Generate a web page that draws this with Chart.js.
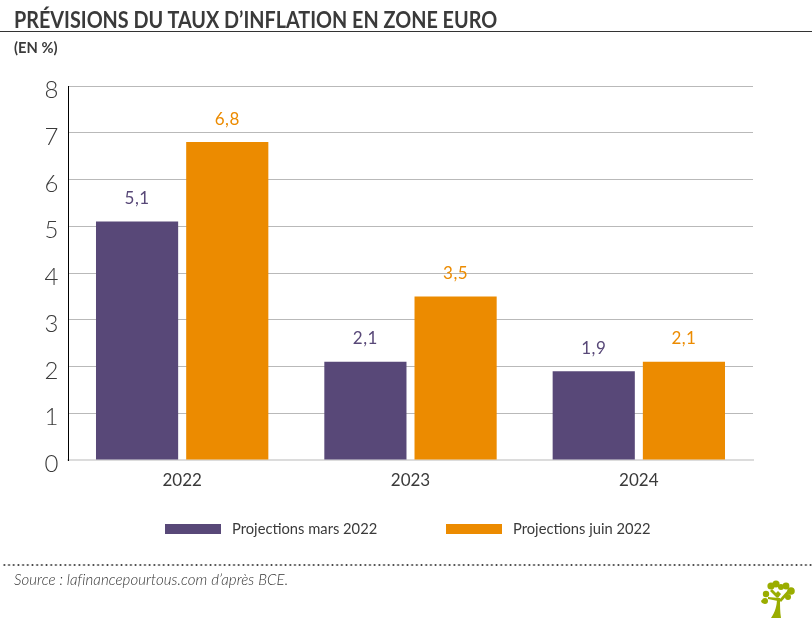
<!DOCTYPE html>
<html lang="fr"><head><meta charset="utf-8">
<style>
html,body{margin:0;padding:0;background:#fff;width:812px;height:618px;overflow:hidden}
#wrap{position:relative;width:812px;height:618px;font-family:Lato,"Open Sans",sans-serif;color:#333}
canvas{position:absolute;left:0;top:0}
.t{position:absolute;white-space:nowrap}
#title{left:14px;top:6px;font-size:22px;font-weight:700;color:#3a3a3a;transform:scaleX(.899);transform-origin:0 0}
#rule{position:absolute;left:0;top:31px;width:812px;height:1px;background:#333}
#unit{left:14px;top:38px;font-size:15px;font-weight:700;color:#3a3a3a;transform:scaleX(.98);transform-origin:0 0}
#dots{position:absolute;left:2px;top:564px;width:810px;height:2px;background-image:radial-gradient(circle,#444 1px,transparent 1.1px);background-size:4.7px 2px}
#source{left:14px;top:570px;font-size:15px;font-style:italic;font-weight:300;color:#333;letter-spacing:.07px}
.lg{position:absolute;top:524px;height:10px}
.ll{top:518px;font-size:16px;color:#3a3a3a;transform:scaleX(.92);transform-origin:0 0}
#logo{position:absolute;left:760px;top:580px}
</style></head><body>
<div id="wrap">
<canvas id="c" width="812" height="618"></canvas>
<div class="t" id="title">PRÉVISIONS DU TAUX D’INFLATION EN ZONE EURO</div>
<div id="rule"></div>
<div class="t" id="unit">(EN %)</div>
<div id="legend"></div>
<div id="dots"></div>
<div class="t" id="source">Source : lafinancepourtous.com d’après BCE.</div>
<svg id="logo" width="40" height="38" viewBox="0 0 40 38">
<g fill="#9aad00">
<path d="M11 38 C15 32 17 26 17 18 L20 18 C20 26 20 32 21 38 Z"/>
<path d="M18 21 L8 19 L8 17 L19 18 Z"/>
<path d="M19 20 L29 9 L31 11 L21 22 Z"/>
<path d="M17 18 L10 11 L12 9 L19 16 Z"/>
<path d="M8 21 C5 19 2 19 1 21 C2 25 7 24 8 21 Z M2 21 a3 3 0 1 0 6 0 a3 3 0 1 0 -6 0"/>
<circle cx="6" cy="14" r="3.2"/><circle cx="11" cy="6" r="3.6"/><circle cx="16" cy="4" r="3.6"/>
<circle cx="21" cy="7" r="3"/><circle cx="26" cy="6" r="3.4"/><circle cx="31" cy="11" r="3.8"/><circle cx="28" cy="17" r="3"/>
</g>
<path d="M18 11 l3 3 l-3 4 l-3 -4 Z" fill="#9aad00"/>
</svg>
</div>
<script src="https://cdn.jsdelivr.net/npm/chart.js@4"></script>
<script>
const categories = ["2022","2023","2024"];
const seriesMarsName = "Projections mars 2022";
const seriesJuinName = "Projections juin 2022";
const seriesMars = [5.1,2.1,1.9];
const seriesJuin = [6.8,3.5,2.1];
const yTicks = [0,1,2,3,4,5,6,7,8];
const colorMars = "#584878";
const colorJuin = "#ec8b00";
const fontFam = 'Lato,"Open Sans",sans-serif';

const fmt = v => String(v).replace(".",",");

const drawExtras = {
  id:"drawExtras",
  afterDatasetsDraw(chart){
    const ctx = chart.ctx;
    ctx.save();
    ctx.textAlign = "center"; ctx.textBaseline = "middle";
    ctx.font = "400 17px "+fontFam;
    ctx.letterSpacing = "0.5px";
    chart.data.datasets.forEach((ds,i)=>{
      ctx.fillStyle = ds.backgroundColor;
      chart.getDatasetMeta(i).data.forEach((bar,j)=>{
        ctx.fillText(fmt(ds.data[j]), bar.x, bar.y-23);
      });
    });
    ctx.letterSpacing = "0px";
    const y = chart.scales.y;
    ctx.fillStyle = "#3a3a3a";
    ctx.font = "300 24px "+fontFam;
    yTicks.forEach(v=>{ ctx.fillText(String(v), 51.5, y.getPixelForValue(v)+4.5); });
    ctx.restore();
  }
};

new Chart(document.getElementById("c"),{
  type:"bar",
  data:{labels:categories,datasets:[
    {label:seriesMarsName,data:seriesMars,backgroundColor:colorMars,categoryPercentage:0.79,barPercentage:0.911},
    {label:seriesJuinName,data:seriesJuin,backgroundColor:colorJuin,categoryPercentage:0.79,barPercentage:0.911}
  ]},
  options:{
    responsive:false,animation:false,devicePixelRatio:1,
    layout:{padding:{left:68,top:86,right:59,bottom:118}},
    plugins:{legend:{display:false},tooltip:{enabled:false},title:{display:false}},
    scales:{
      x:{
        afterFit(s){s.height=40;},
        grid:{display:false,drawTicks:false},
        border:{color:"#dcdcdc",width:2},
        ticks:{color:"#3a3a3a",font:{family:fontFam,size:17,weight:"400"},padding:10,maxRotation:0}
      },
      y:{
        min:0,max:8,
        afterFit(s){s.width=0;},
        grid:{color:"#b9b9b9",lineWidth:1,drawTicks:false},
        border:{color:"#000",width:1},
        ticks:{display:false,stepSize:1}
      }
    }
  },
  plugins:[drawExtras]
});

const lg = document.getElementById("legend");
[[seriesMarsName,colorMars,165,232],[seriesJuinName,colorJuin,446,513]].forEach(([n,c,bx,tx])=>{
  const b=document.createElement("div");b.className="lg";b.style.cssText=`left:${bx}px;width:56px;background:${c}`;
  const t=document.createElement("div");t.className="t ll";t.style.left=tx+"px";t.textContent=n;
  lg.append(b,t);
});
</script>
</body></html>
